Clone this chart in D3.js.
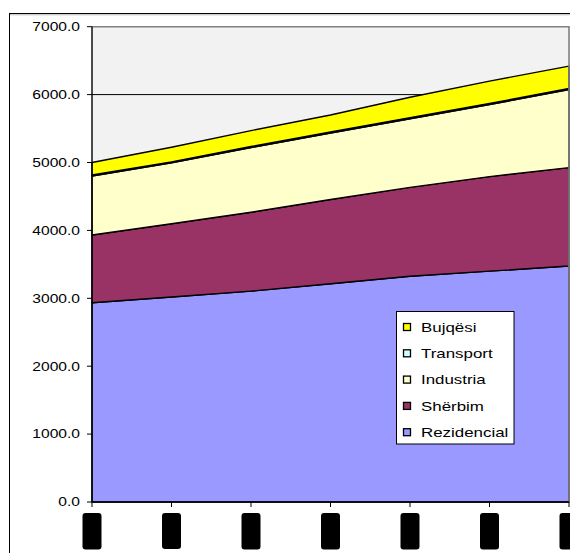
<!DOCTYPE html>
<html>
<head>
<meta charset="utf-8">
<script src="https://cdn.jsdelivr.net/npm/d3@7"></script>
<style>
  html, body { margin: 0; padding: 0; background: #fff; }
  svg { display: block; }
  text { font-family: Arial, "Liberation Sans", sans-serif; fill: #000; }
</style>
</head>
<body>
<svg id="chart" width="570" height="553"></svg>
<script>
// Energy demand by sector (stacked), seven periods
const years = ["2010", "2011", "2012", "2013", "2014", "2015", "2016"];
const rezidencial = [2935, 3020, 3105, 3215, 3325, 3400, 3475];
const sherbim     = [997, 1078, 1162, 1240, 1308, 1392, 1450];
const industria   = [870, 898, 953, 978, 1012, 1060, 1150];
const transport   = [14, 14, 15, 16, 16, 17, 17];
const bujqesi     = [184, 215, 235, 250, 300, 330, 328];
const yTicks = [0, 1000, 2000, 3000, 4000, 5000, 6000, 7000];

// stacking order, bottom to top
const seriesNames  = ["Rezidencial", "Shërbim", "Industria", "Transport", "Bujqësi"];
const seriesValues = [rezidencial, sherbim, industria, transport, bujqesi];
const seriesColors = ["#9999FF", "#993366", "#FFFFCC", "#CCFFFF", "#FFFF00"];

const svg = d3.select("#chart");
const plot = { left: 92, right: 569, top: 26.7, bottom: 502 };
const stretch = 1.3; // horizontal widening of the text

// outer chart frame
svg.append("rect")
  .attr("x", 9.5).attr("y", 13.5).attr("width", 700).attr("height", 700)
  .attr("fill", "none").attr("stroke", "#000").attr("stroke-width", 1);
svg.append("line")
  .attr("x1", 10).attr("x2", 570).attr("y1", 14.8).attr("y2", 14.8)
  .attr("stroke", "#bbb").attr("stroke-width", 1);

const x = d3.scalePoint().domain(years).range([plot.left, plot.right]);
const y = d3.scaleLinear().domain([0, 7000]).range([plot.bottom, plot.top]);

// plot background
svg.append("rect")
  .attr("x", plot.left).attr("y", plot.top)
  .attr("width", plot.right - plot.left).attr("height", plot.bottom - plot.top)
  .attr("fill", "#F2F2F2");

// horizontal gridlines
svg.append("g").selectAll("line")
  .data(yTicks.slice(1, -1))
  .join("line")
  .attr("x1", plot.left).attr("x2", plot.right)
  .attr("y1", d => y(d)).attr("y2", d => y(d))
  .attr("stroke", "#000").attr("stroke-width", 1);

// stacked areas
const table = years.map((yr, i) => {
  const row = { year: yr };
  seriesNames.forEach((n, k) => row[n] = seriesValues[k][i]);
  return row;
});
const stack = d3.stack().keys(seriesNames)(table);
const area = d3.area()
  .x(d => x(d.data.year))
  .y0(d => y(d[0]))
  .y1(d => y(d[1]));

svg.append("g").selectAll("path")
  .data(stack)
  .join("path")
  .attr("d", area)
  .attr("fill", (d, i) => seriesColors[i])
  .attr("stroke", "#000")
  .attr("stroke-width", 1.4)
  .attr("stroke-linejoin", "round");

// plot border (top and right)
svg.append("path")
  .attr("d", `M${plot.left},${plot.top}H${plot.right}V${plot.bottom}`)
  .attr("fill", "none").attr("stroke", "#808080").attr("stroke-width", 1.6);

// y axis
const yAxis = svg.append("g");
yAxis.append("line")
  .attr("x1", plot.left).attr("x2", plot.left)
  .attr("y1", plot.top).attr("y2", plot.bottom)
  .attr("stroke", "#000").attr("stroke-width", 1.4);
yAxis.selectAll("line.tick")
  .data(yTicks).join("line").attr("class", "tick")
  .attr("x1", plot.left - 5).attr("x2", plot.left)
  .attr("y1", d => y(d)).attr("y2", d => y(d))
  .attr("stroke", "#000").attr("stroke-width", 1);
yAxis.selectAll("text")
  .data(yTicks).join("text")
  .attr("transform", d => `translate(80,${y(d)}) scale(${stretch},1)`)
  .attr("text-anchor", "end")
  .attr("dominant-baseline", "central")
  .attr("font-size", 12)
  .text(d => d3.format(".1f")(d));

// x axis
const xAxis = svg.append("g");
xAxis.append("line")
  .attr("x1", plot.left).attr("x2", plot.right)
  .attr("y1", plot.bottom).attr("y2", plot.bottom)
  .attr("stroke", "#000").attr("stroke-width", 1.4);
xAxis.selectAll("line.tick")
  .data(years).join("line").attr("class", "tick")
  .attr("x1", d => x(d)).attr("x2", d => x(d))
  .attr("y1", plot.bottom).attr("y2", plot.bottom + 5)
  .attr("stroke", "#000").attr("stroke-width", 1);

// category labels: rotated text set on solid dark blocks sized to the label
const labelTop = plot.bottom + 11;
const pad = 6;
const labels = xAxis.selectAll("g.label")
  .data(years).join("g").attr("class", "label")
  .attr("transform", d => `translate(${x(d)},${labelTop})`);
const blocks = labels.append("rect").attr("fill", "#000");
const texts = labels.append("text")
  .attr("transform", `translate(0,${pad}) rotate(-90)`)
  .attr("text-anchor", "end")
  .attr("dominant-baseline", "central")
  .attr("font-size", 11)
  .attr("font-weight", "bold")
  .text(d => d);
texts.each(function (d, i) {
  const len = this.getComputedTextLength();
  d3.select(blocks.nodes()[i])
    .attr("x", -9.5).attr("y", 0)
    .attr("width", 19).attr("height", len + 2 * pad)
    .attr("rx", 3);
});

// legend (top series first)
const legend = svg.append("g").attr("transform", "translate(396.5,311.5)");
legend.append("rect")
  .attr("width", 117.5).attr("height", 132.5)
  .attr("fill", "#fff").attr("stroke", "#000").attr("stroke-width", 1);
const order = d3.range(seriesNames.length).reverse();
const items = legend.selectAll("g.item")
  .data(order).join("g").attr("class", "item")
  .attr("transform", (d, i) => `translate(0,${15.5 + i * 26.3})`);
items.append("rect")
  .attr("x", 7).attr("y", -3.5).attr("width", 7).attr("height", 7)
  .attr("fill", d => seriesColors[d])
  .attr("stroke", "#000").attr("stroke-width", 1.3);
items.append("text")
  .attr("transform", `translate(24.5,0) scale(${stretch},1)`)
  .attr("dominant-baseline", "central")
  .attr("font-size", 13)
  .text(d => seriesNames[d]);
</script>
</body>
</html>
